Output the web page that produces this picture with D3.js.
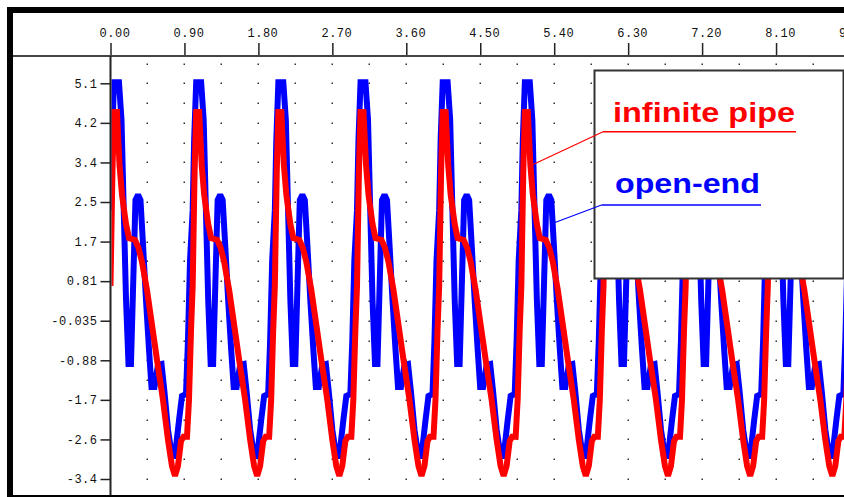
<!DOCTYPE html>
<html><head><meta charset="utf-8">
<script src="https://cdn.jsdelivr.net/npm/d3@7"></script>
<style>html,body{margin:0;padding:0;background:#fff;overflow:hidden}</style>
</head><body>
<svg id="chart" width="844" height="497"></svg>
<script>
// ---- data ----
const xTickValues = [0, 0.9, 1.8, 2.7, 3.6, 4.5, 5.4, 6.3, 7.2, 8.1, 9.0];
const xTickLabels = ["0.00","0.90","1.80","2.70","3.60","4.50","5.40","6.30","7.20","8.10","9.00"];
const yTickValues = [-3.435,-2.585,-1.735,-0.885,-0.035,0.815,1.665,2.515,3.365,4.215,5.065];
const yTickLabels = ["-3.4","-2.6","-1.7","-0.88","-0.035","0.81","1.7","2.5","3.4","4.2","5.1"];

// the signals repeat with period 1.0; one period
const periodStarts = [0,1,2,3,4,5,6,7,8];
const seriesEnd = 9;
const redPhase  = [0, 0.024, 0.043, 0.079, 0.110, 0.140, 0.189, 0.225, 0.298, 0.341, 0.383, 0.444, 0.505, 0.566, 0.639, 0.700, 0.748, 0.785, 0.821, 0.858, 0.888, 0.931, 0.955, 0.980];
const redValues = [0.71, 3.20, 4.45, 4.45, 3.31, 2.67, 2.04, 1.74, 1.70, 1.53, 1.23, 0.625, -0.127, -0.879, -1.74, -2.60, -3.156, -3.37, -3.156, -2.62, -2.53, -2.53, -1.74, -0.234];
const bluePhase  = [0, 0.018, 0.043, 0.103, 0.134, 0.158, 0.189, 0.219, 0.249, 0.274, 0.304, 0.335, 0.365, 0.396, 0.432, 0.469, 0.499, 0.535, 0.578, 0.621, 0.657, 0.700, 0.748, 0.785, 0.834, 0.870, 0.919, 0.943, 0.968];
const blueValues = [2.34, 3.85, 5.09, 5.09, 4.28, 2.56, 0.41, -0.965, -0.965, 0.625, 2.56, 2.67, 2.56, 1.59, 0.41, -0.664, -1.46, -1.46, -0.986, -0.965, -1.566, -2.38, -2.94, -2.94, -2.17, -1.65, -1.61, -0.449, 1.27];

const seriesNames = ["infinite pipe", "open-end"];
const seriesColors = ["#ff0000", "#0000ff"];
const legendPointers = [[5.13, 3.31], [5.385, 2.06]];

// ---- chart ----
const W = 844, H = 497;
const svg = d3.select("#chart");
svg.append("rect").attr("width", W).attr("height", H).attr("fill", "#fff");

const x = d3.scaleLinear().domain([0, 9]).range([110.5, 850]);
const y = d3.scaleLinear().domain([-3.435, 5.065]).range([479, 83.3]);

const plotTop = 56, plotBottom = 496, plotLeft = 110.5, plotRight = W;

// dotted grid
const gx = d3.range(0.45, 9, 0.45);
const gy = d3.range(0, 22).map(i => -3.435 + i * 0.425);
const dots = svg.append("g").attr("fill", "#333");
gx.forEach(a => gy.forEach(b => {
  dots.append("rect").attr("x", Math.round(x(a)) - 0.5).attr("y", Math.round(y(b)) - 0.5)
    .attr("width", 1.5).attr("height", 1.5);
}));

// clip
svg.append("clipPath").attr("id", "clip").append("rect")
  .attr("x", plotLeft + 1).attr("y", plotTop + 1).attr("width", plotRight - plotLeft).attr("height", plotBottom - plotTop);

function buildSeries(phase, values) {
  const pts = [];
  periodStarts.forEach(s => phase.forEach((p, i) => pts.push([s + p, values[i]])));
  pts.push([seriesEnd, values[0]]);
  return pts;
}
const line = d3.line().x(d => x(d[0])).y(d => y(d[1]));
const lines = svg.append("g").attr("clip-path", "url(#clip)");
lines.append("path").datum(buildSeries(bluePhase, blueValues))
  .attr("d", line).attr("fill", "none").attr("stroke", seriesColors[1])
  .attr("stroke-width", 6).attr("stroke-linejoin", "miter").attr("stroke-miterlimit", 2);
lines.append("path").datum(buildSeries(redPhase, redValues))
  .attr("d", line).attr("fill", "none").attr("stroke", seriesColors[0])
  .attr("stroke-width", 6).attr("stroke-linejoin", "miter").attr("stroke-miterlimit", 2);

// axes
const fontMono = "'Liberation Mono', 'DejaVu Sans Mono', monospace";
const xAxis = d3.axisTop(x).tickValues(xTickValues).tickFormat((d, i) => xTickLabels[i])
  .tickSize(13).tickPadding(6);
const gX = svg.append("g").attr("transform", `translate(0,${plotTop})`).call(xAxis);
gX.select(".domain").remove();
gX.selectAll(".tick line").attr("stroke", "#222").attr("stroke-width", 1.5);
gX.selectAll(".tick text").attr("font-family", fontMono).attr("font-size", 12)
  .attr("letter-spacing", 0.5).attr("fill", "#111").attr("dx", 4);

const yAxis = d3.axisLeft(y).tickValues(yTickValues).tickFormat((d, i) => yTickLabels[i])
  .tickSize(10).tickPadding(3);
const gY = svg.append("g").attr("transform", `translate(${plotLeft},0)`).call(yAxis);
gY.select(".domain").remove();
gY.selectAll(".tick line").attr("stroke", "#222").attr("stroke-width", 1.5);
gY.selectAll(".tick text").attr("font-family", fontMono).attr("font-size", 12)
  .attr("letter-spacing", 0.5).attr("fill", "#111");

// axis lines
svg.append("line").attr("x1", 13).attr("x2", W).attr("y1", plotTop).attr("y2", plotTop)
  .attr("stroke", "#444").attr("stroke-width", 2);
svg.append("line").attr("x1", plotLeft).attr("x2", plotLeft).attr("y1", plotTop).attr("y2", H)
  .attr("stroke", "#222").attr("stroke-width", 2);

// frame
svg.append("rect").attr("x", 7).attr("y", 7).attr("width", 6).attr("height", H - 7).attr("fill", "#000");
svg.append("rect").attr("x", 7).attr("y", 7).attr("width", W - 7).attr("height", 6).attr("fill", "#000");
svg.append("rect").attr("x", 7).attr("y", 495).attr("width", W - 7).attr("height", 2).attr("fill", "#000");

// legend
const leg = svg.append("g");
leg.append("rect").attr("x", 594.5).attr("y", 70.5).attr("width", 249).attr("height", 208)
  .attr("fill", "#fff").attr("stroke", "#333").attr("stroke-width", 2);
const legendRows = [
  {text: seriesNames[0], color: seriesColors[0], tx: 613, ty: 122, tl: 182, ux1: 603, ux2: 796, uy: 131.7, p: legendPointers[0]},
  {text: seriesNames[1], color: seriesColors[1], tx: 615, ty: 193, tl: 145, ux1: 601.5, ux2: 761, uy: 205, p: legendPointers[1]}
];
legendRows.forEach(r => {
  leg.append("text").attr("x", r.tx).attr("y", r.ty).text(r.text)
    .attr("font-family", "'Liberation Sans', Arial, sans-serif").attr("font-weight", "bold")
    .attr("font-size", 28).attr("fill", r.color)
    .attr("textLength", r.tl).attr("lengthAdjust", "spacingAndGlyphs");
  leg.append("line").attr("x1", r.ux1).attr("x2", r.ux2).attr("y1", r.uy).attr("y2", r.uy)
    .attr("stroke", r.color).attr("stroke-width", 1.5);
  svg.append("line").attr("x1", x(r.p[0])).attr("y1", y(r.p[1])).attr("x2", r.ux1).attr("y2", r.uy)
    .attr("stroke", r.color).attr("stroke-width", 1.2);
});
</script>
</body></html>
